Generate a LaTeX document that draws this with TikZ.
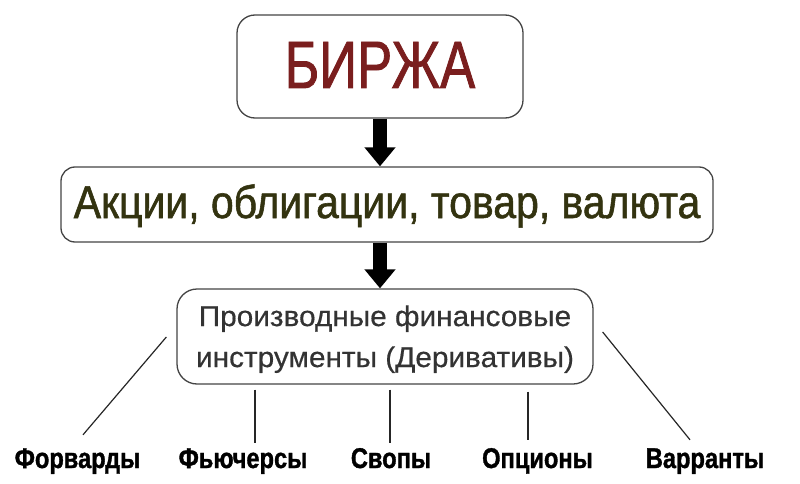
\documentclass[tikz,border=0pt]{standalone}
\usepackage{fontspec}
\setmainfont{Liberation Sans}
\newfontfamily\fbig[FakeStretch=0.785,FakeBold=1.2]{Liberation Sans}
\newfontfamily\fmid[FakeStretch=0.89,FakeBold=1.2]{Liberation Sans}
\newfontfamily\fderiv[FakeStretch=1.045,FakeBold=0.5]{Liberation Sans}
\newfontfamily\flbl[FakeStretch=0.83,FakeBold=1.2]{Liberation Sans}
\usetikzlibrary{arrows.meta,calc}
\definecolor{birzhared}{HTML}{7A1E1E}
\definecolor{olivetext}{HTML}{333310}
\definecolor{boxline}{HTML}{444444}
\definecolor{derivtext}{HTML}{333333}
\tikzset{
  rbox/.style={draw=boxline, line width=1.3pt, fill=white, inner sep=0pt, align=center},
  bigarrow/.style={line width=14pt, -{Triangle[width=30pt,length=19pt]}},
  conn/.style={draw=black!85, line width=1.2pt},
  lbl/.style={anchor=base, inner sep=0pt, text height=18pt, text depth=5pt,
              font=\flbl\bfseries\fontsize{28.5}{32}\selectfont}
}
\begin{document}
\begin{tikzpicture}[x=1pt,y=-1pt]
\useasboundingbox (0,0) rectangle (800,484);
% boxes
\node[rbox, rounded corners=18pt, minimum width=286pt, minimum height=103pt,
      text height=48pt, text depth=5pt, text=birzhared,
      font=\fbig\fontsize{67}{80}\selectfont] (birzha) at (380,66.5) {БИРЖА};
\node[rbox, rounded corners=14pt, minimum width=652pt, minimum height=75pt,
      text height=33pt, text depth=6pt, text=olivetext,
      font=\fmid\fontsize{46}{54}\selectfont] (assets) at (387,204.5) {Акции, облигации, товар, валюта};
\node[rbox, rounded corners=20pt, minimum width=416pt, minimum height=95pt,
      text=derivtext, font=\fderiv\fontsize{28.5}{41}\selectfont] (deriv) at (385,336.5)
      {\rule{0pt}{26pt}Производные финансовые\\инструменты (Деривативы)};
% arrows
\draw[bigarrow] (birzha.south) -- (birzha.south |- assets.north);
\draw[bigarrow] (birzha.south |- assets.south) -- (birzha.south |- deriv.north);
% labels
\node[lbl] (fwd) at (77.5,468) {Форварды};
\node[lbl] (fut) at (243,468) {Фьючерсы};
\node[lbl] (swp) at (391,468) {Свопы};
\node[lbl] (opt) at (537.5,468) {Опционы};
\node[lbl] (war) at (705,468) {Варранты};
% connectors
\draw[conn] ($(deriv.west)+(-10,0.5)$) -- ($(fwd.north)+(5.5,-15)$);
\draw[conn] ($(deriv.south -| fut.north)+(12,5)$) -- ($(fut.north)+(12,-7)$);
\draw[conn] ($(deriv.south -| swp.north)+(-1,5)$) -- ($(swp.north)+(-1,-7)$);
\draw[conn] ($(deriv.south -| opt.north)+(-9.5,7)$) -- ($(opt.north)+(-9.5,-10)$);
\draw[conn] ($(deriv.east)+(9,-4.5)$) -- ($(war.north)+(-15,-10)$);
\end{tikzpicture}
\end{document}
